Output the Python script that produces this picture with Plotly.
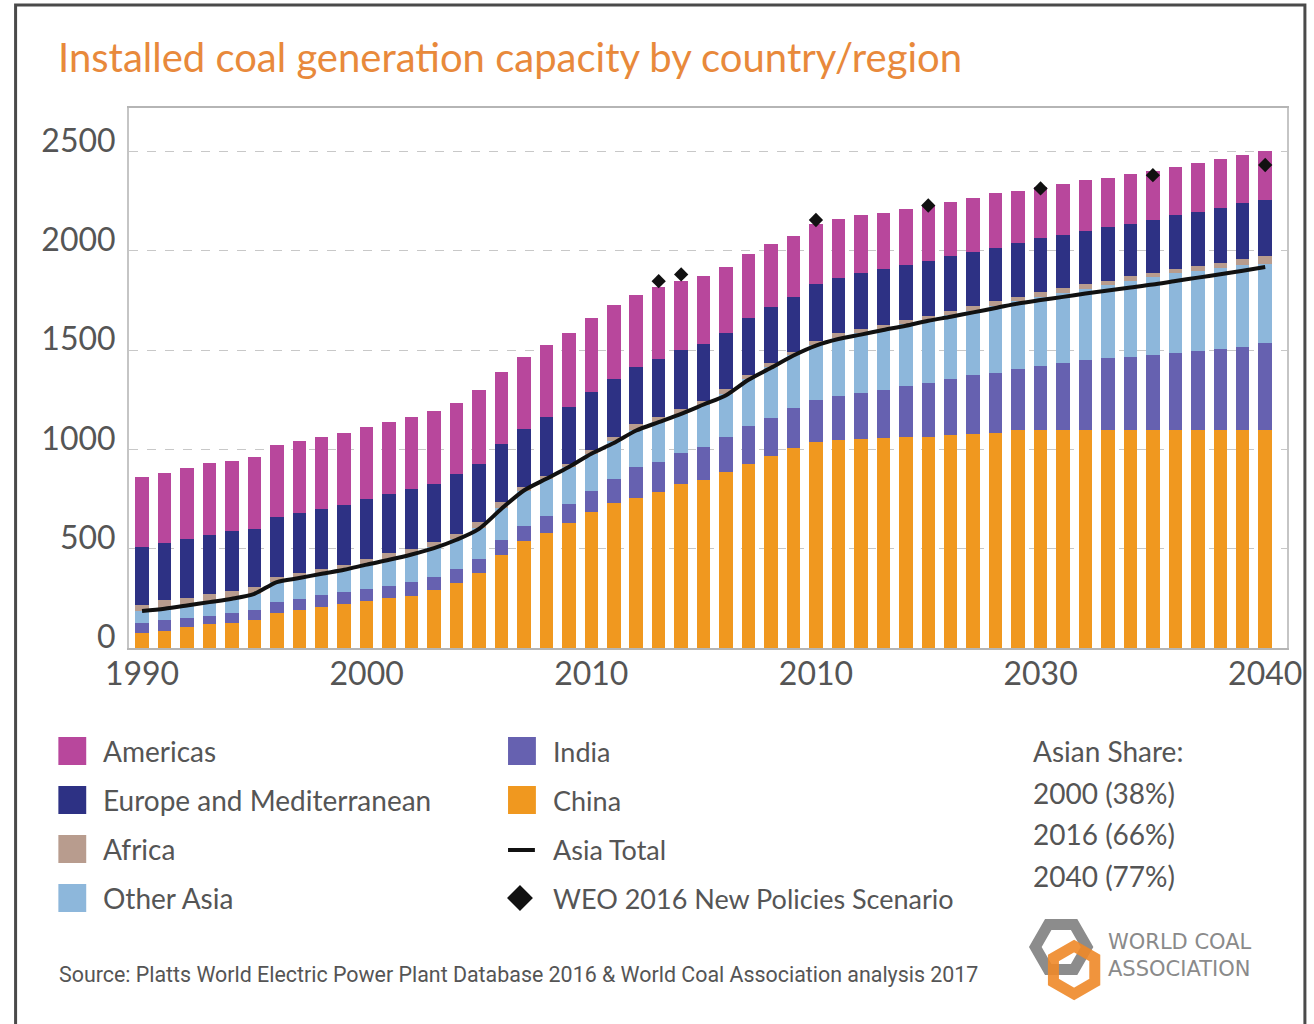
import plotly.graph_objects as go
import math

# ---------------- data ----------------
years = list(range(1990, 2041))

china = [77, 88, 105, 119, 125, 139, 177, 189, 206, 223, 236, 253, 260,
         290, 327, 377, 466, 538, 579, 629, 684, 730, 756, 785, 827, 847,
         888, 927, 967, 1005, 1039, 1047, 1052, 1055, 1060, 1064, 1072, 1077, 1085,
         1096, 1096, 1096, 1096, 1096, 1096, 1096, 1096, 1096, 1096, 1096, 1096]
india = [50, 54, 47, 40, 52, 50, 54, 59, 62, 59, 62, 57, 72,
         67, 72, 72, 76, 74, 88, 94, 106, 122, 155, 151, 154, 164,
         176, 190, 189, 201, 212, 220, 232, 246, 257, 272, 284, 296, 300,
         309, 326, 340, 352, 362, 370, 379, 391, 399, 411, 422, 439]
other_asia = [59, 56, 62, 72, 71, 84, 101, 104, 106, 112, 125, 134, 139,
              153, 151, 156, 163, 181, 183, 188, 188, 188, 189, 204, 199, 215,
              214, 239, 259, 267, 275, 293, 300, 304, 312, 316, 319, 325, 335,
              344, 347, 350, 361, 371, 384, 392, 399, 405, 408, 412, 400]
africa = [33, 42, 39, 39, 39, 34, 25, 25, 25, 25, 26, 34, 29,
          23, 25, 29, 30, 17, 14, 17, 20, 22, 26, 22, 24, 20,
          28, 20, 19, 17, 22, 25, 23, 22, 23, 21, 23, 25, 28,
          20, 26, 26, 24, 21, 22, 22, 20, 23, 26, 28, 40]
europe = [292, 288, 297, 300, 302, 293, 305, 302, 302, 302, 302, 295, 302,
          294, 299, 290, 290, 294, 298, 288, 290, 293, 288, 294, 294, 286,
          280, 284, 284, 278, 287, 280, 280, 280, 277, 276, 276, 273, 268,
          269, 271, 269, 267, 270, 262, 266, 272, 274, 277, 282, 282]
americas = [349, 354, 357, 361, 355, 361, 358, 363, 361, 363, 361, 364, 360,
            364, 359, 373, 364, 361, 365, 371, 373, 373, 364, 361, 349, 339,
            333, 322, 314, 309, 298, 293, 292, 284, 279, 275, 272, 270, 274,
            262, 256, 257, 257, 249, 255, 248, 245, 245, 245, 240, 243]
asia_total = [186, 198, 214, 231, 248, 273, 332, 352, 374, 394, 420, 444, 471,
              503, 545, 600, 701, 793, 852, 911, 978, 1032, 1095, 1137, 1179, 1226,
              1273, 1351, 1411, 1473, 1523, 1556, 1578, 1601, 1623, 1648, 1668, 1690, 1712,
              1735, 1752, 1768, 1785, 1800, 1815, 1830, 1848, 1865, 1882, 1900, 1918]

weo_years = [2013, 2014, 2020, 2025, 2030, 2035, 2040]
weo_values = [1847, 1881, 2155, 2228, 2314, 2381, 2432]

x_tick_vals = [1990, 2000, 2010, 2020, 2030, 2040]
x_tick_text = ["1990", "2000", "2010", "2010", "2030", "2040"]
y_tick_vals = [0, 500, 1000, 1500, 2000, 2500]

bar_series = [
    ("China", china, "#F0981F"),
    ("India", india, "#6661B0"),
    ("Other Asia", other_asia, "#8DB7DB"),
    ("Africa", africa, "#B89C8E"),
    ("Europe and Mediterranean", europe, "#2D3184"),
    ("Americas", americas, "#B8479C"),
]

title_text = "Installed coal generation capacity by country/region"
source_text = "Source: Platts World Electric Power Plant Database 2016 & World Coal Association analysis 2017"
share_lines = ["Asian Share:", "2000 (38%)", "2016 (66%)", "2040 (77%)"]

# ---------------- layout helpers (pixel -> paper) ----------------
W, H = 1314, 1024
L, R, T, B = 129, 21, 108, 376
PW, PH = W - L - R, H - T - B


def px(x):
    return (x - L) / PW


def py(y):
    return (H - B - y) / PH


fig = go.Figure()

for name, vals, col in bar_series:
    fig.add_trace(go.Bar(x=years, y=vals, name=name, marker=dict(color=col, line=dict(width=0)),
                         width=0.6))

fig.add_trace(go.Scatter(x=years, y=asia_total, mode="lines", name="Asia Total",
                         line=dict(color="#111111", width=4, shape="spline", smoothing=0.8)))
fig.add_trace(go.Scatter(x=weo_years, y=weo_values, mode="markers", name="WEO 2016 New Policies Scenario",
                         marker=dict(symbol="diamond", size=11, color="#111111")))

axis_font = dict(family="Lato, Open Sans, sans-serif", size=32, color="#555555")

fig.update_layout(
    width=W, height=H,
    margin=dict(l=L, r=R, t=T, b=B, pad=0),
    paper_bgcolor="white", plot_bgcolor="white",
    barmode="stack", bargap=0.4,
    showlegend=False,
    xaxis=dict(range=[1989.42, 2040.97], tickvals=x_tick_vals, ticktext=x_tick_text,
               tickfont=axis_font, showgrid=False, zeroline=False, ticks="",
               showline=True, linecolor="#b5b5b5", linewidth=2, mirror=True,
               ticklabelstandoff=-3),
    yaxis=dict(range=[0, 2719], tickvals=y_tick_vals, tickfont=axis_font,
               showgrid=True, gridcolor="#c8c8c8", griddash="dash", gridwidth=1,
               zeroline=False, ticks="", showline=True, linecolor="#c5c5c5",
               linewidth=2, mirror=True, ticklabelshift=-11, ticklabelstandoff=5),
)

shapes = []
annotations = []

# outer frame
shapes.append(dict(type="rect", xref="paper", yref="paper",
                   x0=px(15), x1=px(1311), y0=py(1040), y1=py(5),
                   line=dict(color="#4a4a4a", width=3), fillcolor="rgba(0,0,0,0)", layer="above"))

# title
annotations.append(dict(text=title_text, xref="paper", yref="paper", x=px(56), y=py(57),
                        xanchor="left", yanchor="middle", showarrow=False,
                        font=dict(family="Lato, sans-serif", size=40, color="#E8893B")))

# legend (manual, two columns)
leg_font = dict(family="Lato, sans-serif", size=28, color="#555555")
row_y = [751, 800, 849, 898]
col1 = [("Americas", "#B8479C"), ("Europe and Mediterranean", "#2D3184"),
        ("Africa", "#B89C8E"), ("Other Asia", "#8DB7DB")]
for (name, col), yy in zip(col1, row_y):
    shapes.append(dict(type="rect", xref="paper", yref="paper", x0=px(58), x1=px(86),
                       y0=py(yy + 14), y1=py(yy - 14), fillcolor=col, line=dict(width=0)))
    annotations.append(dict(text=name, xref="paper", yref="paper", x=px(101), y=py(yy),
                            xanchor="left", yanchor="middle", showarrow=False, font=leg_font))

leg_font2 = dict(family="Lato, sans-serif", size=27, color="#555555")
col2 = [("India", "#6661B0"), ("China", "#F0981F")]
for (name, col), yy in zip(col2, row_y[:2]):
    shapes.append(dict(type="rect", xref="paper", yref="paper", x0=px(510), x1=px(538),
                       y0=py(yy + 14), y1=py(yy - 14), fillcolor=col, line=dict(width=0)))
    annotations.append(dict(text=name, xref="paper", yref="paper", x=px(553), y=py(yy),
                            xanchor="left", yanchor="middle", showarrow=False, font=leg_font2))
shapes.append(dict(type="line", xref="paper", yref="paper", x0=px(510), x1=px(537),
                   y0=py(850), y1=py(850), line=dict(color="#111111", width=4)))
annotations.append(dict(text="Asia Total", xref="paper", yref="paper", x=px(553), y=py(849),
                        xanchor="left", yanchor="middle", showarrow=False, font=leg_font2))
dx, dy = 13, 13
cx, cy = 522, 898
shapes.append(dict(type="path", xref="paper", yref="paper",
                   path=f"M {px(cx)} {py(cy - dy)} L {px(cx + dx)} {py(cy)} L {px(cx)} {py(cy + dy)} L {px(cx - dx)} {py(cy)} Z",
                   fillcolor="#111111", line=dict(width=0)))
annotations.append(dict(text="WEO 2016 New Policies Scenario", xref="paper", yref="paper",
                        x=px(553), y=py(898), xanchor="left", yanchor="middle",
                        showarrow=False, font=leg_font2))

# Asian share text
for txt, yy in zip(share_lines, [751, 793, 834, 876]):
    annotations.append(dict(text=txt, xref="paper", yref="paper", x=px(1036), y=py(yy),
                            xanchor="left", yanchor="middle", showarrow=False,
                            font=dict(family="Lato, sans-serif", size=28, color="#555555")))

# source
annotations.append(dict(text=source_text, xref="paper", yref="paper", x=px(57), y=py(974),
                        xanchor="left", yanchor="middle", showarrow=False,
                        font=dict(family="Roboto, sans-serif", size=21.4, color="#555555")))

# logo: two hexagon outlines + text


def hex_path(cx, cy, r, rot):
    pts = []
    for k in range(6):
        a = math.radians(rot + 60 * k)
        pts.append((px(cx + r * math.cos(a)), py(cy + r * math.sin(a))))
    return "M " + " L ".join(f"{a} {b}" for a, b in pts) + " Z"


shapes.append(dict(type="path", xref="paper", yref="paper", path=hex_path(1066, 947, 26, 0),
                   line=dict(color="#8c8c8c", width=11), fillcolor="rgba(0,0,0,0)"))
shapes.append(dict(type="path", xref="paper", yref="paper", path=hex_path(1079, 970, 24, 30),
                   line=dict(color="rgba(238,136,40,0.9)", width=11), fillcolor="rgba(0,0,0,0)"))
logo_font = dict(family="DejaVu Sans, sans-serif", size=21, color="#8a8a8a")
annotations.append(dict(text="WORLD COAL<br>ASSOCIATION", xref="paper", yref="paper",
                        x=px(1111), y=py(955), xanchor="left", yanchor="middle", align="left",
                        showarrow=False, font=logo_font))

fig.update_layout(shapes=shapes, annotations=annotations)

fig.write_html("out.html")
